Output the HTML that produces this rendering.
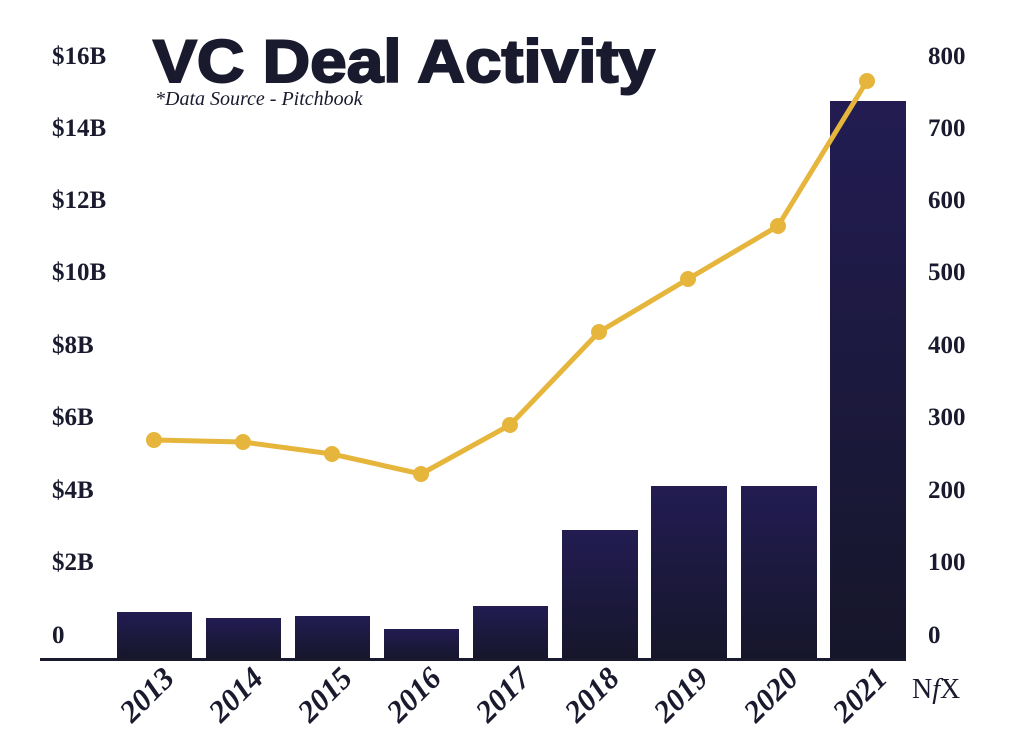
<!DOCTYPE html>
<html><head><meta charset="utf-8"><style>
body{margin:0;background:#fff;}
svg{display:block}
</style></head><body>
<svg width="1024" height="746" xmlns="http://www.w3.org/2000/svg">
<defs>
<linearGradient id="g" x1="0" y1="0" x2="0" y2="1">
<stop offset="0" stop-color="#221c52"/><stop offset="1" stop-color="#16162a"/>
</linearGradient>
</defs>
<rect width="1024" height="746" fill="#fff"/>
<g font-family="Liberation Serif, serif" font-weight="bold" font-size="25" fill="#1a1a2e">
<text x="52" y="64">$16B</text>
<text x="52" y="136">$14B</text>
<text x="52" y="208">$12B</text>
<text x="52" y="280">$10B</text>
<text x="52" y="353">$8B</text>
<text x="52" y="425">$6B</text>
<text x="52" y="498">$4B</text>
<text x="52" y="570">$2B</text>
<text x="52" y="643">0</text>
<text x="928" y="64">800</text>
<text x="928" y="136">700</text>
<text x="928" y="208">600</text>
<text x="928" y="280">500</text>
<text x="928" y="353">400</text>
<text x="928" y="425">300</text>
<text x="928" y="498">200</text>
<text x="928" y="570">100</text>
<text x="928" y="643">0</text>
<text x="912" y="698" font-weight="normal" font-size="28">N<tspan font-style="italic">f</tspan>X</text>
</g>
<text x="153" y="82" font-family="Liberation Sans, sans-serif" font-weight="bold" font-size="60" fill="#1a1a2e" textLength="502" lengthAdjust="spacingAndGlyphs" stroke="#1a1a2e" stroke-width="2">VC Deal Activity</text>
<text x="155" y="105" font-family="Liberation Serif, serif" font-style="italic" font-size="20" fill="#1a1a2e">*Data Source - Pitchbook</text>
<g fill="url(#g)">
<rect x="117" y="612" width="75" height="48"/>
<rect x="206" y="618" width="75" height="42"/>
<rect x="295" y="616" width="75" height="44"/>
<rect x="384" y="629" width="75" height="31"/>
<rect x="473" y="606" width="75" height="54"/>
<rect x="562" y="530" width="76" height="130"/>
<rect x="651" y="486" width="76" height="174"/>
<rect x="741" y="486" width="76" height="174"/>
<rect x="830" y="101" width="76" height="559"/>
</g>
<rect x="40" y="658" width="866" height="3" fill="#1a1a2e"/>
<polyline points="154,440 243,442 332,454 421,474 510,425 599,332 688,279 778,226 867,81" fill="none" stroke="#e6b53c" stroke-width="5" stroke-linejoin="round"/>
<g fill="#e6b53c">
<circle cx="154" cy="440" r="8"/><circle cx="243" cy="442" r="8"/><circle cx="332" cy="454" r="8"/>
<circle cx="421" cy="474" r="8"/><circle cx="510" cy="425" r="8"/><circle cx="599" cy="332" r="8"/>
<circle cx="688" cy="279" r="8"/><circle cx="778" cy="226" r="8"/><circle cx="867" cy="81" r="8"/>
</g>
<g font-family="Liberation Serif, serif" font-weight="bold" font-style="italic" font-size="31" fill="#1a1a2e" text-anchor="end">
<text transform="translate(176,680) rotate(-45)">2013</text>
<text transform="translate(265,680) rotate(-45)">2014</text>
<text transform="translate(354,680) rotate(-45)">2015</text>
<text transform="translate(443,680) rotate(-45)">2016</text>
<text transform="translate(532,680) rotate(-45)">2017</text>
<text transform="translate(621,680) rotate(-45)">2018</text>
<text transform="translate(710,680) rotate(-45)">2019</text>
<text transform="translate(800,680) rotate(-45)">2020</text>
<text transform="translate(889,680) rotate(-45)">2021</text>
</g>
</svg>
</body></html>
